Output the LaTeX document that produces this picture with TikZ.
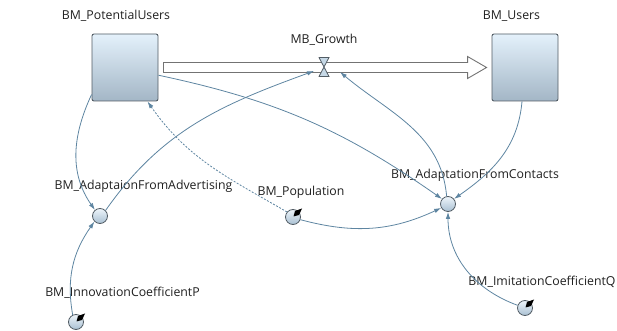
\documentclass[tikz,border=0pt]{standalone}
\usepackage{fontspec}
\setmainfont{Open Sans}
\usetikzlibrary{arrows.meta}

\definecolor{linkcol}{HTML}{5E85A1}
\definecolor{stocktop}{HTML}{E4F1FB}
\definecolor{stockbot}{HTML}{A3B6C6}
\definecolor{edgecol}{HTML}{525C64}
\definecolor{auxtop}{HTML}{EEF5FB}
\definecolor{auxbot}{HTML}{A9C0D2}
\definecolor{valvefill}{HTML}{C6D8E6}

\newcommand{\dial}[1]{\fill[black] ([shift={(0.5pt,0.5pt)}]#1.center) -- ([shift={(2pt,6pt)}]#1.center) -- ([shift={(9pt,8.5pt)}]#1.center) -- ([shift={(6pt,2pt)}]#1.center) -- cycle;}

\begin{document}
\begin{tikzpicture}[x=1pt, y=1pt,
  every node/.style={font=\fontsize{12.3}{14}\selectfont},
  stock/.style={draw=edgecol, line width=0.9pt, rounded corners=2pt, top color=stocktop, bottom color=stockbot, minimum width=66pt, minimum height=67pt, inner sep=0pt},
  aux/.style={circle, draw=edgecol, line width=0.8pt, top color=auxtop, bottom color=auxbot, minimum size=15pt, inner sep=0pt},
  valve/.style={minimum width=11pt, minimum height=20pt, inner sep=0pt,
    path picture={\filldraw[fill=valvefill, draw=edgecol, line width=0.8pt]
      ([shift={(0.5pt,-0.5pt)}]path picture bounding box.north west) -- ([shift={(-0.5pt,-0.5pt)}]path picture bounding box.north east) -- ([shift={(0.5pt,0.5pt)}]path picture bounding box.south west) -- ([shift={(-0.5pt,0.5pt)}]path picture bounding box.south east) -- cycle;}},
  lbl/.style={inner sep=0pt, text=black!88},
  link/.style={draw=linkcol, line width=0.8pt, -{Latex[length=7pt,width=4.5pt]}},
  pipe/.style={draw=black!55, line width=0.9pt, fill=white, line join=miter}]
  \useasboundingbox (0,0) rectangle (617,331);

  % stocks and flow
  \node[stock] (pu) at (125,263.5) {};
  \node[stock] (us) at (525,263.5) {};
  \draw[pipe] ([shift={(5pt,5pt)}]pu.east) -- ([shift={(-24pt,5pt)}]us.west) -- ([shift={(-24pt,11pt)}]us.west) -- ([shift={(-5pt,0pt)}]us.west) -- ([shift={(-24pt,-11pt)}]us.west) -- ([shift={(-24pt,-5pt)}]us.west) -- ([shift={(5pt,-5pt)}]pu.east) -- cycle;
  \node[valve] (gr) at (324,264) {};

  % variables
  \node[aux] (fa) at (100,115) {};
  \node[aux] (ct) at (448,127) {};
  \node[aux] (pop) at (293,114) {};
  \node[aux] (p) at (76,9) {};
  \node[aux] (q) at (525,23) {};
  \dial{pop}
  \dial{p}
  \dial{q}

  \node[lbl] (pu-l) at (116,315) {BM\_PotentialUsers};
  \node[lbl] (us-l) at (511.5,315) {BM\_Users};
  \node[lbl] (gr-l) at (324,291) {MB\_Growth};
  \node[lbl] (fa-l) at (143.5,145) {BM\_AdaptaionFromAdvertising};
  \node[lbl] (pop-l) at (301,139) {BM\_Population};
  \node[lbl] (ct-l) at (475,156) {BM\_AdaptationFromContacts};
  \node[lbl] (p-l) at (122.5,38) {BM\_InnovationCoefficientP};
  \node[lbl] (q-l) at (542,49) {BM\_ImitationCoefficientQ};

  % links
  \draw[link] (pu.219) to[out=245, in=125] (fa.130);
  \draw[link] (p.115) to[out=100, in=235] (fa.225);
  \draw[link] (fa.45) to[out=55, in=200] ([shift={(-10pt,-4pt)}]gr.center);
  \draw[link] (pu.-13) to[out=-12, in=145] (ct.140);
  \draw[link] ([xshift=-3pt]us.south) to[out=265, in=35] (ct.40);
  \draw[link] (pop.-20) to[out=-15, in=205] (ct.210);
  \draw[link] (q.160) to[out=160, in=-90] (ct.south);
  \draw[link] (ct.100) to[out=95, in=-40] ([shift={(16pt,-5pt)}]gr.center);
  \draw[link, dash pattern=on 2pt off 1.5pt] (pop.140) to[out=150, in=-55] ([xshift=-11pt]pu.south east);
\end{tikzpicture}
\end{document}
